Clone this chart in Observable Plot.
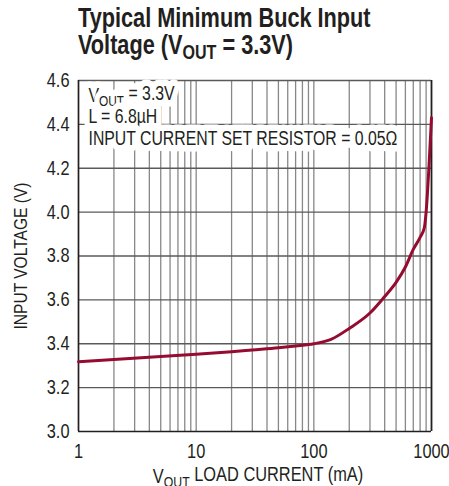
<!DOCTYPE html>
<html><head><meta charset="utf-8">
<script src="https://cdn.jsdelivr.net/npm/d3@7"></script>
<script src="https://cdn.jsdelivr.net/npm/@observablehq/plot@0.6"></script>
<style>
body{margin:0;background:#fff;width:449px;height:486px;overflow:hidden;}
#title{position:absolute;left:78px;top:4px;font-family:"Liberation Sans",Arial,sans-serif;font-weight:bold;font-size:28px;line-height:27px;color:#231f20;white-space:nowrap;transform:scaleX(0.775);transform-origin:0 0;}
#title sub{font-size:74%;vertical-align:-0.25em;line-height:0;}
#chart{position:absolute;left:0;top:62px;}
</style></head>
<body>
<div id="title">Typical Minimum Buck Input<br>Voltage (V<sub>OUT</sub> = 3.3V)</div>
<div id="chart"></div>
<script>
// data
const loadCurrent = [1, 2, 5, 10, 20, 30, 50, 70, 100, 140, 200, 300, 400, 500, 600, 700, 800, 870, 900, 950, 1000];
const inputVoltage = [3.318, 3.328, 3.342, 3.352, 3.364, 3.372, 3.382, 3.39, 3.40, 3.42, 3.47, 3.54, 3.615, 3.68, 3.75, 3.83, 3.885, 3.93, 4.00, 4.20, 4.43];
const xTicks = [1, 10, 100, 1000];
const yTicks = [3.0, 3.2, 3.4, 3.6, 3.8, 4.0, 4.2, 4.4, 4.6];
const xGrid = [2,3,4,5,6,7,8,9,10,20,30,40,50,60,70,80,90,100,200,300,400,500,600,700,800,900,1000];
const annotation = ["VOUT = 3.3V", "L = 6.8µH", "INPUT CURRENT SET RESISTOR = 0.05Ω"];
const xLabel = "VOUT LOAD CURRENT (mA)";
const yLabel = "INPUT VOLTAGE (V)";

const data = loadCurrent.map((x, i) => ({x, y: inputVoltage[i]}));
const font = '"Liberation Sans",Arial,sans-serif';
const SX = 0.82;

const plot = Plot.plot({
  width: 449, height: 424,
  marginTop: 18, marginLeft: 78, marginRight: 18, marginBottom: 55,
  style: {fontFamily: font, fontSize: "20px", color: "#231f20", background: "white", overflow: "visible"},
  x: {type: "log", domain: [1, 1000], label: null},
  y: {domain: [3.0, 4.6], label: null},
  marks: [
    Plot.ruleX(xGrid, {stroke: "#888", strokeWidth: 1.3}),
    Plot.ruleY(yTicks.slice(1), {stroke: "#5a5a5a", strokeWidth: 1.3}),
    Plot.ruleX([1], {stroke: "#231f20", strokeWidth: 1.7}),
    Plot.ruleX([1000], {stroke: "#231f20", strokeWidth: 1.7}),
    Plot.ruleY([3.0], {stroke: "#231f20", strokeWidth: 1.7}),
    Plot.text([annotation.join("\n")], {frameAnchor: "top-left", dx: 10, dy: 5, lineAnchor: "top", lineHeight: 1.17, textAnchor: "start",
      fontSize: 19.3, fill: "#231f20", stroke: "white", strokeWidth: 13, strokeLinejoin: "round"}),
    Plot.line(data, {x: "x", y: "y", stroke: "#960c31", strokeWidth: 3, curve: "monotone-x"}),
    Plot.axisX({ticks: xTicks, tickFormat: d => String(d), tickSize: 0, tickPadding: 12, fontSize: 20, label: null}),
    Plot.axisY({ticks: yTicks, tickFormat: d => d.toFixed(1), tickSize: 0, tickPadding: 9, fontSize: 20, label: null}),
    Plot.text([xLabel], {frameAnchor: "bottom", dy: 51, dx: 3, fontSize: 20, fill: "#231f20"}),
    Plot.text([yLabel], {frameAnchor: "left", textAnchor: "middle", dx: -58, rotate: -90, fontSize: 19, fill: "#231f20"})
  ]
});

// subscript "OUT"
function subscriptify(el) {
  const t = el.textContent;
  const i = t.indexOf("VOUT");
  if (i < 0) return;
  el.textContent = "";
  const ns = "http://www.w3.org/2000/svg";
  el.appendChild(document.createTextNode(t.slice(0, i + 1)));
  const s = document.createElementNS(ns, "tspan");
  s.setAttribute("font-size", "75%"); s.setAttribute("dy", "0.28em"); s.textContent = "OUT";
  el.appendChild(s);
  const r = document.createElementNS(ns, "tspan");
  r.setAttribute("dy", "-0.28em"); r.textContent = t.slice(i + 4);
  el.appendChild(r);
}
plot.querySelectorAll("text").forEach(txt => {
  const spans = txt.querySelectorAll("tspan");
  if (spans.length) spans.forEach(subscriptify); else subscriptify(txt);
  // condense horizontally around the text anchor
  const tr = txt.getAttribute("transform") || "";
  txt.setAttribute("transform", (tr + ` scale(${SX},1)`).trim());
});
document.getElementById("chart").appendChild(plot);
</script>
</body></html>
